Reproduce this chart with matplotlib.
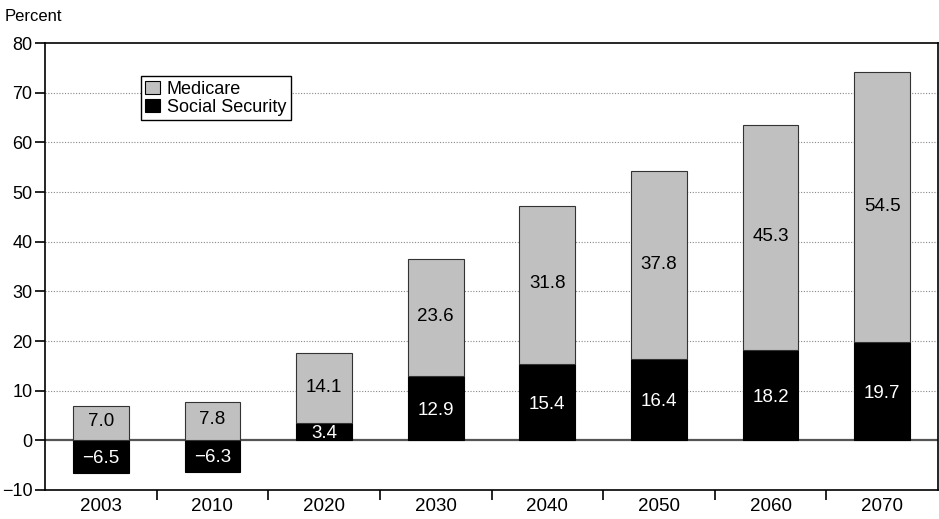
import matplotlib
matplotlib.use("Agg")
import matplotlib.pyplot as plt
from matplotlib.ticker import MultipleLocator, FixedLocator
from matplotlib.patches import Patch

years = ["2003", "2010", "2020", "2030", "2040", "2050", "2060", "2070"]
social_security = [-6.5, -6.3, 3.4, 12.9, 15.4, 16.4, 18.2, 19.7]
medicare = [7.0, 7.8, 14.1, 23.6, 31.8, 37.8, 45.3, 54.5]

plt.rcParams['font.family'] = ['Liberation Sans', 'DejaVu Sans']
plt.rcParams['font.size'] = 13.5

fig = plt.figure(figsize=(9.39, 5.19), dpi=100)
ax = fig.add_axes([45 / 939, 29 / 519, 893 / 939, 447 / 519])

x = list(range(len(years)))
width = 0.5
ss_color = 'black'
med_color = '#c0c0c0'

# medicare sits on top of positive social security, on zero otherwise
med_bottom = [max(v, 0) for v in social_security]

ax.bar(x, social_security, width, color=ss_color, edgecolor='black', linewidth=0.8, zorder=3)
ax.bar(x, medicare, width, bottom=med_bottom, color=med_color, edgecolor='#333333',
       linewidth=0.8, zorder=3)

for i in x:
    ss = social_security[i]
    ax.text(i, ss / 2 - 0.4, f"{ss:.1f}".replace('-', '\u2212'), ha='center', va='center',
            color='white', zorder=4)
    ax.text(i, med_bottom[i] + medicare[i] / 2 + 0.2, f"{medicare[i]:.1f}", ha='center',
            va='center', color='black', zorder=4)

ax.set_xlim(-0.5, len(years) - 0.5)
ax.set_ylim(-10, 80)
ax.yaxis.set_major_locator(MultipleLocator(10))

ax.set_xticks(x)
ax.set_xticklabels(years)
ax.xaxis.set_minor_locator(FixedLocator([i + 0.5 for i in range(len(years) - 1)]))
ax.tick_params(axis='x', which='major', length=0, pad=6)
ax.tick_params(axis='x', which='minor', length=7, width=1.2, direction='out')
ax.tick_params(axis='y', which='major', length=7, width=1.2, direction='out', pad=2,
               labelsize=13)

for v in range(10, 80, 10):
    ax.axhline(v, color='#888888', linestyle=(0, (1, 1.5)), linewidth=0.8, zorder=1)
ax.axhline(0, color='#555555', linewidth=1.6, zorder=2)

for s in ax.spines.values():
    s.set_linewidth(1.2)

ax.text(-0.045, 1.05, "Percent", transform=ax.transAxes, ha='left', va='baseline', fontsize=12)

handles = [Patch(facecolor=med_color, edgecolor='black', linewidth=0.8, label='Medicare'),
           Patch(facecolor=ss_color, edgecolor='black', linewidth=0.8, label='Social Security')]
leg = ax.legend(handles=handles, loc='upper left', bbox_to_anchor=(0.107, 0.926),
                fancybox=False, framealpha=1, edgecolor='black', handlelength=0.8,
                handleheight=0.8, handletextpad=0.4, borderpad=0.25, labelspacing=0.05,
                borderaxespad=0, fontsize=13)
leg.get_frame().set_linewidth(1.0)
leg.set_zorder(5)

fig.savefig("out.png", dpi=100)
